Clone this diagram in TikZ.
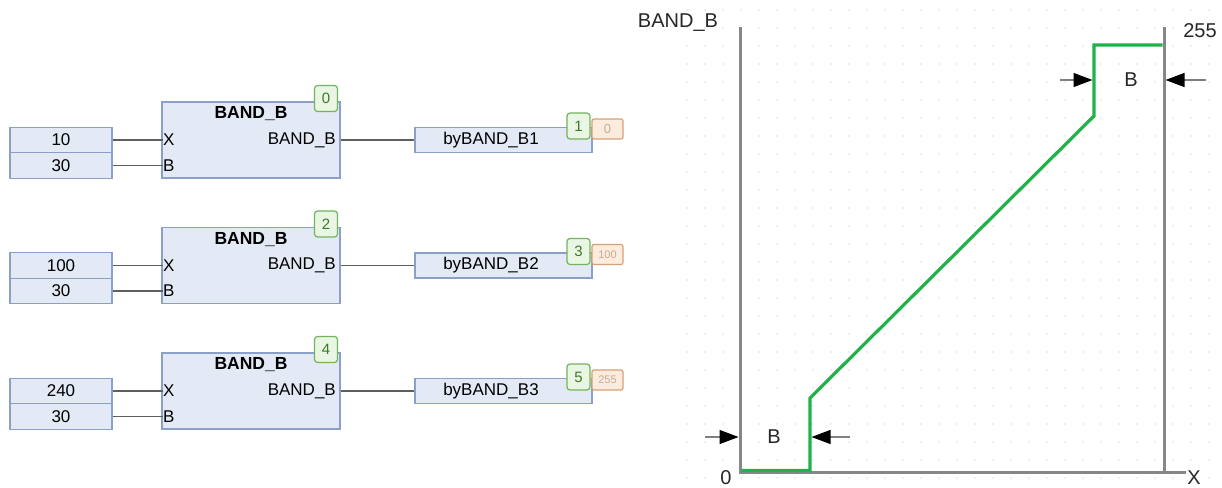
\documentclass[tikz,border=0pt]{standalone}
\usepackage{fontspec}
\setmainfont{Liberation Sans}
\usetikzlibrary{arrows.meta}

\definecolor{boxfill}{RGB}{227,234,246}
\definecolor{boxline}{RGB}{138,160,200}
\definecolor{badgefill}{RGB}{234,246,228}
\definecolor{badgeline}{RGB}{112,180,92}
\definecolor{badgetext}{RGB}{60,120,40}
\definecolor{valfill}{RGB}{252,236,222}
\definecolor{valline}{RGB}{214,160,118}
\definecolor{valtext}{RGB}{200,170,150}
\definecolor{wirecol}{RGB}{95,95,95}
\definecolor{axiscol}{RGB}{135,135,135}
\definecolor{curvecol}{RGB}{32,178,72}
\definecolor{dotcol}{RGB}{222,222,222}

\tikzset{
  fbbox/.style={draw=boxline, fill=boxfill, line width=1.2, minimum width=178, minimum height=76, inner sep=0},
  inbox/.style={draw=boxline, fill=boxfill, line width=1.2, minimum width=102, minimum height=25.5, inner sep=0, font=\fontsize{17}{20}\selectfont},
  outbox/.style={draw=boxline, fill=boxfill, line width=1.2, minimum width=177, minimum height=25, inner sep=0},
  badge/.style={draw=badgeline, fill=badgefill, line width=1.2, rounded corners=3, minimum width=23, minimum height=26, inner sep=0, text=badgetext, font=\fontsize{15}{17}\selectfont},
  valbox/.style={draw=valline, fill=valfill, line width=1.2, rounded corners=2, minimum width=31, minimum height=20, inner sep=0, text=valtext, font=\fontsize{13}{15}\selectfont},
  pinlbl/.style={inner sep=0, font=\fontsize{17}{20}\selectfont},
  fbtitle/.style={inner sep=0, font=\fontsize{17.5}{20}\selectfont\bfseries},
  wire/.style={draw=wirecol, line width=1.6},
  axisline/.style={draw=axiscol, line width=3},
  curve/.style={draw=curvecol, line width=3.2, line join=miter},
  dimarrow/.style={draw=gray, line width=1.2, -{Triangle[length=19pt,width=14pt,black]}},
  chartlbl/.style={inner sep=0, text=black!85, font=\fontsize{20}{24}\selectfont},
}

\begin{document}
\begin{tikzpicture}[x=1pt, y=-1pt]
     \useasboundingbox (0,0) rectangle (1222,487);

     % dot grid
     \foreach \i in {0,...,29} {
       \foreach \j in {0,...,26} {
         \fill[dotcol] (687+18*\i, 10+18*\j) circle (0.9);
       }
     }

     % block 0
     \node[inbox] (in1a) at (61,140) {10};
     \node[inbox] (in1b) at (61,165.5) {30};
     \node[fbbox] (fb1) at (251,140) {};
     \node[fbtitle] (t1) at (251,114) {BAND\_B};
     \node[pinlbl, anchor=west] (x1) at (163,140) {X};
     \node[pinlbl, anchor=west] (b1) at (163,165.5) {B};
     \node[pinlbl, anchor=east] (q1) at (336,140) {BAND\_B};
     \node[badge] (n0) at (326,98.5) {0};
     \node[outbox] (out1) at (503.5,140) {};
     \node[pinlbl] (o1) at (491,140) {byBAND\_B1};
     \node[badge] (n1) at (578.5,126) {1};
     \node[valbox] (v1) at (607.5,129) {0};
     \draw[wire] (in1a.east) -- (x1.west);
     \draw[wire] (in1b.east) -- (b1.west);
     \draw[wire] (fb1.east) -- (out1.west);

     % block 2
     \node[inbox] (in2a) at (61,265.5) {100};
     \node[inbox] (in2b) at (61,291) {30};
     \node[fbbox] (fb2) at (251,265.5) {};
     \node[fbtitle] (t2) at (251,239.5) {BAND\_B};
     \node[pinlbl, anchor=west] (x2) at (163,265.5) {X};
     \node[pinlbl, anchor=west] (b2) at (163,291) {B};
     \node[pinlbl, anchor=east] (q2) at (336,265.5) {BAND\_B};
     \node[badge] (n2) at (326,224) {2};
     \node[outbox] (out2) at (503.5,265.5) {};
     \node[pinlbl] (o2) at (491,265.5) {byBAND\_B2};
     \node[badge] (n3) at (578.5,251.5) {3};
     \node[valbox, font=\fontsize{11}{13}\selectfont] (v2) at (607.5,254.5) {100};
     \draw[wire] (in2a.east) -- (x2.west);
     \draw[wire] (in2b.east) -- (b2.west);
     \draw[wire] (fb2.east) -- (out2.west);

     % block 4
     \node[inbox] (in3a) at (61,391) {240};
     \node[inbox] (in3b) at (61,416.5) {30};
     \node[fbbox] (fb3) at (251,391) {};
     \node[fbtitle] (t3) at (251,365) {BAND\_B};
     \node[pinlbl, anchor=west] (x3) at (163,391) {X};
     \node[pinlbl, anchor=west] (b3) at (163,416.5) {B};
     \node[pinlbl, anchor=east] (q3) at (336,391) {BAND\_B};
     \node[badge] (n4) at (326,349.5) {4};
     \node[outbox] (out3) at (503.5,391) {};
     \node[pinlbl] (o3) at (491,391) {byBAND\_B3};
     \node[badge] (n5) at (578.5,377) {5};
     \node[valbox, font=\fontsize{11}{13}\selectfont] (v3) at (607.5,380) {255};
     \draw[wire] (in3a.east) -- (x3.west);
     \draw[wire] (in3b.east) -- (b3.west);
     \draw[wire] (fb3.east) -- (out3.west);

     % chart axes
     \coordinate (o) at (740,472);
     \coordinate (ytop) at (740,27);
     \coordinate (xend) at (1186,472);
     \coordinate (rtop) at (1164,27);
     \coordinate (rbot) at (1164,472);
     \draw[axisline] (ytop) -- (o) -- (xend);
     \draw[axisline] (rtop) -- (rbot);

     % characteristic
     \draw[curve] (741.5,470.5) -- (810,470.5) -- (810,398) -- (1094,116) -- (1094,45) -- (1162.5,45);

     % band markers
     \draw[dimarrow] (705,437) -- (738.5,437);
     \draw[dimarrow] (850,437) -- (811.5,437);
     \draw[dimarrow] (1060,80) -- (1092.5,80);
     \draw[dimarrow] (1206,80) -- (1165.5,80);
     \node[chartlbl] (bl) at (774,437) {B};
     \node[chartlbl] (bu) at (1131,80) {B};

     % axis labels
     \node[chartlbl] (ylbl) at (678,23) {BAND\_B};
     \node[chartlbl] (zero) at (726,478) {0};
     \node[chartlbl] (xlbl) at (1194,478) {X};
     \node[chartlbl] (top) at (1200,31) {255};
\end{tikzpicture}
\end{document}
